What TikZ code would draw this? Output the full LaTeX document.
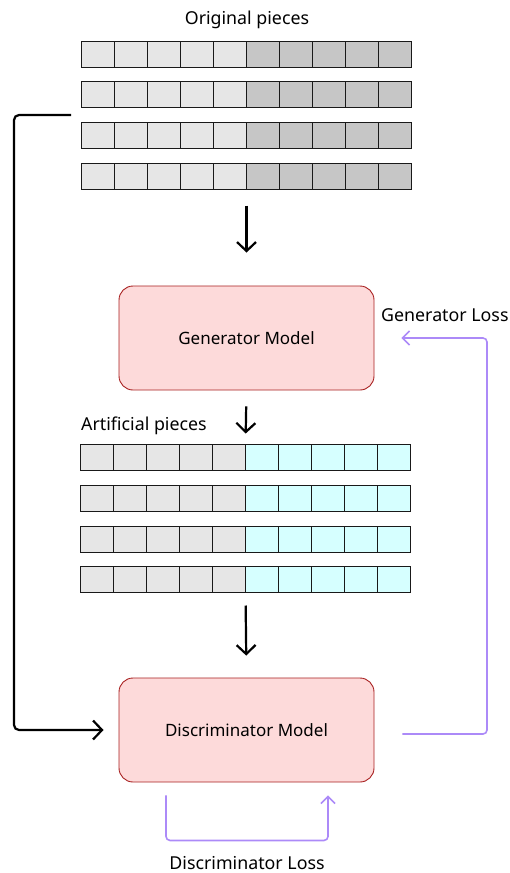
\documentclass[tikz,border=0pt]{standalone}
\usepackage{fontspec}
\setmainfont{Noto Sans}
\usetikzlibrary{arrows.meta}
\definecolor{plaincell}{HTML}{E6E6E6}
\definecolor{shadecell}{HTML}{C6C6C6}
\definecolor{gencell}{HTML}{D6FFFF}
\definecolor{modelfill}{HTML}{FDDADA}
\definecolor{modeldraw}{HTML}{A82020}
\definecolor{lossline}{HTML}{AC8AF8}
\begin{document}
\begin{tikzpicture}[x=1pt,y=-1pt,
  cell/.style={draw=black!90, line width=1.1pt, minimum width=33pt, minimum height=26pt,
    inner sep=0pt, outer sep=0pt, anchor=north west},
  model/.style={draw=modeldraw, fill=modelfill, line width=0.9pt, rounded corners=14pt,
    minimum width=255pt, minimum height=104pt, font=\fontsize{17}{20}\selectfont},
  label/.style={font=\fontsize{17.8}{21}\selectfont, inner sep=0pt},
  flow/.style={draw=black, line width=2.2pt, -{Straight Barb[length=9pt,width=19pt,line width=2.2pt]}},
  loss/.style={draw=lossline, line width=1.6pt, rounded corners=4pt,
    -{Straight Barb[length=7pt,width=14pt,line width=1.6pt]}}]
\useasboundingbox (0,0) rectangle (509,873);

% original pieces: four rows of ten cells
\node[label] (origtitle) at (247,20) {Original pieces};
\foreach \r/\top in {1/41.5,2/81.5,3/122.5,4/163.5} {
  \foreach \c in {0,...,4}
    \node[cell, fill=plaincell] (o\r-\c) at ({81.5+\c*33},\top) {};
  \foreach \c in {5,...,9}
    \node[cell, fill=shadecell] (o\r-\c) at ({81.5+\c*33},\top) {};
}

% generator
\node[model] (gen) at (246.5,338) {Generator Model};

% artificial pieces
\node[label, anchor=west] (arttitle) at (81,426) {Artificial pieces};
\foreach \r/\top in {1/444.5,2/485.5,3/526.5,4/566.5} {
  \foreach \c in {0,...,4}
    \node[cell, fill=plaincell] (a\r-\c) at ({80.5+\c*33},\top) {};
  \foreach \c in {5,...,9}
    \node[cell, fill=gencell] (a\r-\c) at ({80.5+\c*33},\top) {};
}

% discriminator
\node[model] (dis) at (246.5,730) {Discriminator Model};

% main flow
\draw[flow, shorten <=16pt, shorten >=33pt] (o4-5.south west) -- (gen.north);
\draw[flow, shorten <=16pt, shorten >=11pt] (gen.south) -- (a1-5.north west);
\draw[flow, shorten <=13pt, shorten >=22pt] (a4-5.south west) -- (dis.north);

% real samples fed to the discriminator
\coordinate (feed) at (71,115);
\draw[flow, rounded corners=5pt, shorten >=15pt] (feed) -- (14,115) |- (dis.west);

% generator loss
\node[label, anchor=west] (genloss) at (381,315) {Generator Loss};
\draw[loss, shorten <=28pt, shorten >=27pt]
  ([yshift=-4pt]dis.east) -- (487,734) -- (487,338) -- (gen.east |- 0,338);

% discriminator loss
\node[label] (disloss) at (247,863) {Discriminator Loss};
\draw[loss, shorten <=13pt, shorten >=13pt]
  ([xshift=-80.5pt]dis.south) -- ++(0,58) -| ([xshift=81.5pt]dis.south);
\end{tikzpicture}
\end{document}
